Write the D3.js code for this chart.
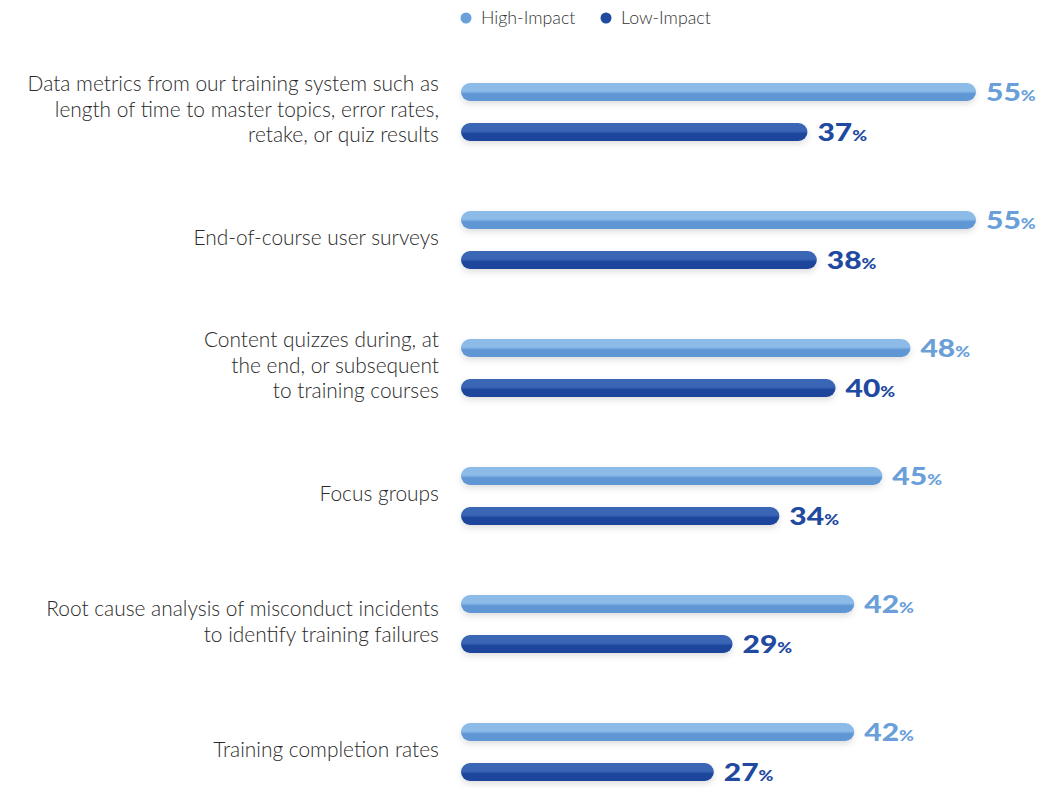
<!DOCTYPE html>
<html>
<head>
<meta charset="utf-8">
<script src="https://cdn.jsdelivr.net/npm/d3@7"></script>
<style>
  html, body { margin: 0; padding: 0; background: #ffffff; }
  svg { display: block; }
</style>
</head>
<body>
<svg id="chart" width="1053" height="788"></svg>
<script>
// Survey answers, one row per measurement method
const categories = [
  ["Data metrics from our training system such as", "length of time to master topics, error rates,", "retake, or quiz results"],
  ["End-of-course user surveys"],
  ["Content quizzes during, at", "the end, or subsequent", "to training courses"],
  ["Focus groups"],
  ["Root cause analysis of misconduct incidents", "to identify training failures"],
  ["Training completion rates"]
];
const seriesNames = ["High-Impact", "Low-Impact"];
const highImpact = [55, 55, 48, 45, 42, 42];
const lowImpact = [37, 38, 40, 34, 29, 27];

const colors = {
  "High-Impact": { top: "#8cbbe8", bottom: "#5f97d4", label: "#6a9fd9", dot: "#6a9fd9" },
  "Low-Impact": { top: "#3a66b6", bottom: "#1c459b", label: "#1f4a9f", dot: "#1f4a9f" }
};

const textFont = "Lato, 'Open Sans', sans-serif";

const svg = d3.select("#chart");
const keys = categories.map((c, i) => i);

const x = d3.scaleLinear().domain([0, 55]).range([461, 976]);
const y = d3.scalePoint().domain(keys).range([112, 752]);
const ySeries = d3.scalePoint().domain(seriesNames).range([-20, 20]);
const barH = 18;

const rows = keys.map(i => ({
  idx: i,
  lines: categories[i],
  values: [
    { series: "High-Impact", value: highImpact[i] },
    { series: "Low-Impact", value: lowImpact[i] }
  ]
}));

// gradients and shadow
const defs = svg.append("defs");
seriesNames.forEach((s, k) => {
  const g = defs.append("linearGradient")
    .attr("id", "grad" + k).attr("x1", 0).attr("y1", 0).attr("x2", 0).attr("y2", 1);
  g.append("stop").attr("offset", "0%").attr("stop-color", colors[s].top);
  g.append("stop").attr("offset", "45%").attr("stop-color", colors[s].top);
  g.append("stop").attr("offset", "60%").attr("stop-color", colors[s].bottom);
  g.append("stop").attr("offset", "100%").attr("stop-color", colors[s].bottom);
});
const f = defs.append("filter").attr("id", "shadow")
  .attr("x", "-5%").attr("y", "-50%").attr("width", "110%").attr("height", "220%");
f.append("feDropShadow").attr("dx", 0).attr("dy", 3).attr("stdDeviation", 3)
  .attr("flood-color", "#000").attr("flood-opacity", 0.13);

// legend
const legend = svg.append("g").attr("class", "legend");
const legendX = [466, 606];
seriesNames.forEach((s, k) => {
  const lg = legend.append("g").attr("transform", `translate(${legendX[k]},18)`);
  lg.append("circle").attr("r", 5.5).attr("fill", colors[s].dot);
  lg.append("text").attr("x", 15).attr("dy", "0.35em")
    .attr("font-family", textFont).attr("font-weight", 300)
    .attr("font-size", 17.8).attr("fill", "#333").text(s);
});

// category labels
const labelG = svg.append("g").attr("class", "labels");
rows.forEach(r => {
  const n = r.lines.length;
  const lh = 25.5;
  const t = labelG.append("text")
    .attr("text-anchor", "end")
    .attr("font-family", textFont).attr("font-weight", 300)
    .attr("font-size", 20.9).attr("fill", "#2a2a2a");
  r.lines.forEach((line, j) => {
    t.append("tspan").attr("x", 439)
      .attr("y", y(r.idx) + (j - (n - 1) / 2) * lh)
      .attr("dy", "0.23em").text(line);
  });
});

// bars
const groups = svg.append("g").selectAll("g.row").data(rows).join("g")
  .attr("class", "row").attr("transform", d => `translate(0,${y(d.idx)})`);

groups.selectAll("rect").data(d => d.values).join("rect")
  .attr("x", x(0))
  .attr("y", d => ySeries(d.series) - barH / 2)
  .attr("width", d => x(d.value) - x(0))
  .attr("height", barH)
  .attr("rx", barH / 2).attr("ry", barH / 2)
  .attr("fill", d => `url(#grad${seriesNames.indexOf(d.series)})`)
  .attr("filter", "url(#shadow)");

const vt = groups.selectAll("text.val").data(d => d.values).join("text")
  .attr("class", "val")
  .attr("transform", d => `translate(${x(d.value) + 10},${ySeries(d.series) + 9}) scale(1.2,1)`)
  .attr("font-family", "Lato, sans-serif")
  .attr("font-weight", 900)
  .attr("fill", d => colors[d.series].label);
vt.append("tspan").attr("font-size", 25).text(d => d.value);
vt.append("tspan").attr("font-size", 15).text("%");
</script>
</body>
</html>
